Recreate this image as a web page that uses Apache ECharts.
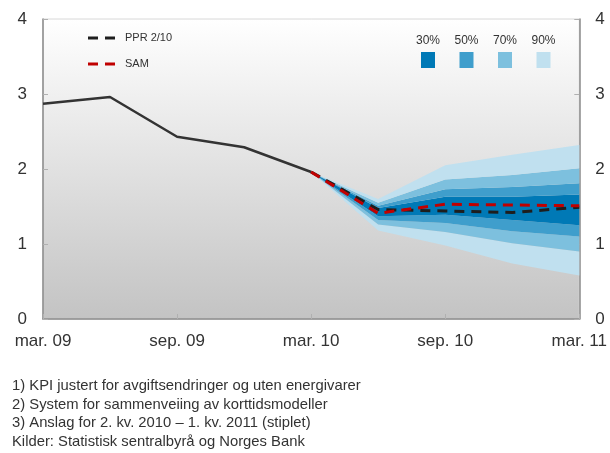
<!DOCTYPE html>
<html>
<head>
<meta charset="utf-8">
<script src="https://cdn.jsdelivr.net/npm/echarts@6/dist/echarts.min.js"></script>
<style>
  html, body { margin: 0; padding: 0; background: #ffffff; }
  #chart { width: 610px; height: 453px; }
</style>
</head>
<body>
<div id="chart"></div>
<script>
// Quarterly periods on the x axis
const quarters = ['mar. 09', 'jun. 09', 'sep. 09', 'des. 09', 'mar. 10', 'jun. 10', 'sep. 10', 'des. 10', 'mar. 11'];
const yTicks = [0, 1, 2, 3, 4];

// Observed inflation (solid line)
const actual = [2.87, 2.96, 2.43, 2.29, 1.96, null, null, null, null];
// Forecasts (dashed)
const ppr = [null, null, null, null, 1.96, 1.46, 1.44, 1.42, 1.49];
const sam = [null, null, null, null, 1.96, 1.41, 1.53, 1.52, 1.51];

// Fan chart bounds for SAM
const upper90 = [null, null, null, null, 1.96, 1.60, 2.05, 2.19, 2.32];
const upper70 = [null, null, null, null, 1.96, 1.55, 1.86, 1.92, 2.01];
const upper50 = [null, null, null, null, 1.96, 1.51, 1.73, 1.76, 1.81];
const upper30 = [null, null, null, null, 1.96, 1.48, 1.63, 1.63, 1.66];
const lower30 = [null, null, null, null, 1.96, 1.37, 1.39, 1.32, 1.25];
const lower50 = [null, null, null, null, 1.96, 1.32, 1.28, 1.17, 1.10];
const lower70 = [null, null, null, null, 1.96, 1.26, 1.16, 1.01, 0.90];
const lower90 = [null, null, null, null, 1.96, 1.18, 0.98, 0.74, 0.58];

const bandLabels = ['30%', '50%', '70%', '90%'];
const bandColors = ['#0079b6', '#3f9ecc', '#7dc0de', '#c0e0ef'];

const footnotes = [
  '1) KPI justert for avgiftsendringer og uten energivarer',
  '2) System for sammenveiing av korttidsmodeller',
  '3) Anslag for 2. kv. 2010 \u2013 1. kv. 2011 (stiplet)',
  'Kilder: Statistisk sentralbyr\u00e5 og Norges Bank'
];

const toSeries = arr => arr.map(v => (v === null ? '-' : v));
const diff = (hi, lo) => hi.map((v, i) => (v === null ? '-' : +(v - lo[i]).toFixed(4)));

// Stacked layers from the bottom edge of the fan upwards
const fanLayers = [
  { data: toSeries(lower90), color: null },
  { data: diff(lower70, lower90), color: bandColors[3] },
  { data: diff(lower50, lower70), color: bandColors[2] },
  { data: diff(lower30, lower50), color: bandColors[1] },
  { data: diff(upper30, lower30), color: bandColors[0] },
  { data: diff(upper50, upper30), color: bandColors[1] },
  { data: diff(upper70, upper50), color: bandColors[2] },
  { data: diff(upper90, upper70), color: bandColors[3] }
];

const fanSeries = fanLayers.map(layer => ({
  type: 'line',
  stack: 'fan',
  data: layer.data,
  showSymbol: false,
  silent: true,
  z: 1,
  lineStyle: { width: 0, opacity: 0 },
  areaStyle: layer.color ? { color: layer.color, opacity: 1 } : { opacity: 0 }
}));

const font = 'Liberation Sans, Arial, sans-serif';
const textColor = '#333333';

const chart = echarts.init(document.getElementById('chart'), null, { renderer: 'canvas' });

// Legend and footnote graphics
const legendGraphics = [];
const lineLegend = [
  { label: 'PPR 2/10', color: '#1e1e1e', y: 38 },
  { label: 'SAM', color: '#c00000', y: 64 }
];
lineLegend.forEach(item => {
  legendGraphics.push({
    type: 'line',
    shape: { x1: 88, y1: item.y, x2: 121, y2: item.y },
    style: { stroke: item.color, lineWidth: 3, lineDash: [10, 7] },
    z: 10
  });
  legendGraphics.push({
    type: 'text',
    x: 125, y: item.y,
    style: { text: item.label, font: '11px ' + font, fill: textColor, textVerticalAlign: 'middle' },
    z: 10
  });
});
bandLabels.forEach((lab, i) => {
  const cx = 428 + i * 38.5;
  legendGraphics.push({
    type: 'text',
    x: cx, y: 41,
    style: { text: lab, font: '12px ' + font, fill: textColor, textAlign: 'center', textVerticalAlign: 'middle' },
    z: 10
  });
  legendGraphics.push({
    type: 'rect',
    shape: { x: cx - 7, y: 52, width: 14, height: 16 },
    style: { fill: bandColors[i] },
    z: 10
  });
});
footnotes.forEach((t, i) => {
  legendGraphics.push({
    type: 'text',
    x: 12, y: 386 + i * 18.5,
    style: { text: t, font: '14.8px ' + font, fill: textColor, textVerticalAlign: 'middle' },
    z: 10
  });
});

const yAxisCommon = {
  type: 'value',
  min: 0, max: 4, interval: 1,
  axisLine: { show: true, lineStyle: { color: '#8a8a8a', width: 1.5 } },
  axisTick: { show: true, inside: true, length: 5, lineStyle: { color: '#b0b0b0' } },
  splitLine: { show: false },
  axisLabel: {
    color: textColor, fontSize: 17, fontFamily: font, margin: 16,
    formatter: v => (yTicks.includes(v) ? String(v) : '')
  }
};

chart.setOption({
  animation: false,
  backgroundColor: '#ffffff',
  grid: {
    left: 43, right: 30, top: 19, bottom: 134,
    show: true,
    borderWidth: 1,
    borderColor: '#d8d8d8',
    backgroundColor: new echarts.graphic.LinearGradient(0, 0, 0, 1, [
      { offset: 0, color: '#ffffff' },
      { offset: 1, color: '#c3c3c3' }
    ])
  },
  xAxis: {
    type: 'category',
    data: quarters,
    boundaryGap: false,
    axisLine: { show: true, lineStyle: { color: '#8a8a8a', width: 1.5 } },
    axisTick: { show: true, inside: true, length: 5, interval: 1, lineStyle: { color: '#b0b0b0' } },
    axisLabel: { interval: 1, color: textColor, fontSize: 17, fontFamily: font, margin: 14 },
    splitLine: { show: false }
  },
  yAxis: [
    Object.assign({ position: 'left' }, yAxisCommon),
    Object.assign({ position: 'right' }, yAxisCommon)
  ],
  series: [
    ...fanSeries,
    {
      type: 'line', data: toSeries(actual), showSymbol: false, z: 5,
      lineStyle: { color: '#333333', width: 2.5 }
    },
    {
      type: 'line', data: toSeries(ppr), showSymbol: false, z: 6,
      lineStyle: { color: '#1e1e1e', width: 3, type: [10, 7] }
    },
    {
      type: 'line', data: toSeries(sam), showSymbol: false, z: 7,
      lineStyle: { color: '#c00000', width: 3, type: [10, 7] }
    }
  ],
  graphic: legendGraphics
});
</script>
</body>
</html>
